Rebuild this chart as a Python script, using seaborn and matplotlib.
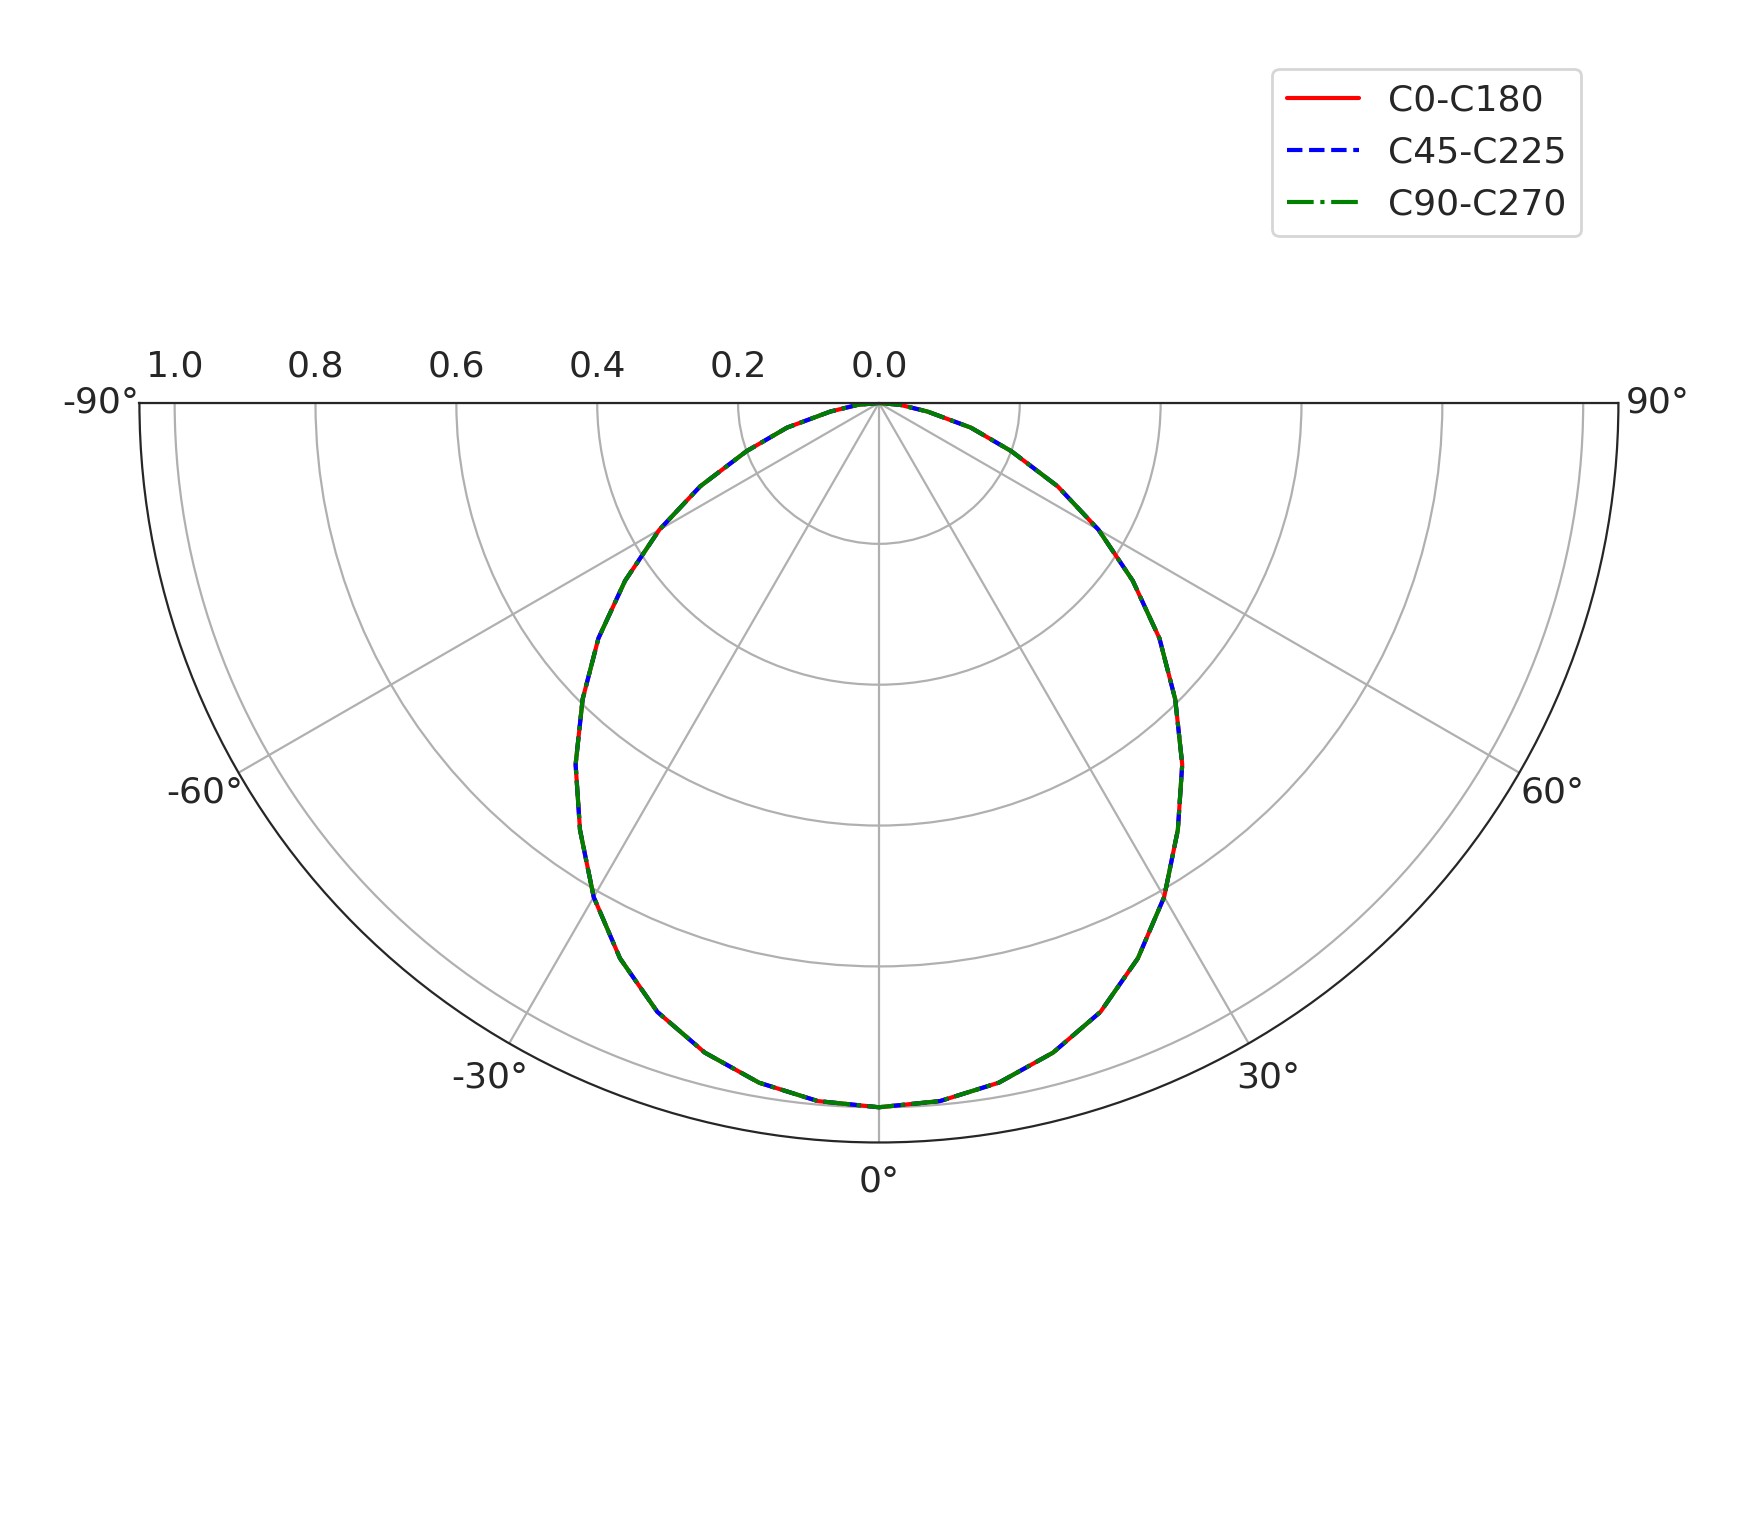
import numpy as np
import pandas as pd
import matplotlib
matplotlib.use("Agg")
import matplotlib.pyplot as plt
import seaborn as sns

angles_deg = [-90, -85, -80, -75, -70, -65, -60, -55, -50, -45, -40, -35, -30, -25, -20, -15, -10, -5, 0,
              5, 10, 15, 20, 25, 30, 35, 40, 45, 50, 55, 60, 65, 70, 75, 80, 85, 90]
c0_c180 = [0.0, 0.03, 0.07, 0.135, 0.20, 0.28, 0.36, 0.44, 0.52, 0.595, 0.67, 0.74, 0.81, 0.87, 0.92, 0.955, 0.98, 0.995, 1.0,
           0.995, 0.98, 0.955, 0.92, 0.87, 0.81, 0.74, 0.67, 0.595, 0.52, 0.44, 0.36, 0.28, 0.20, 0.135, 0.07, 0.03, 0.0]
c45_c225 = list(c0_c180)
c90_c270 = list(c0_c180)
series_names = ["C0-C180", "C45-C225", "C90-C270"]

sns.set_style("white")
plt.rcParams['font.family'] = ['DejaVu Sans']

fig = plt.figure(figsize=(8.685, 7.695), dpi=200)
ax = fig.add_subplot(111, projection='polar')
ax.set_position([-0.347, 0.0174, 1.706, 0.961])
ax.set_theta_zero_location('S')
ax.set_thetamin(-90)
ax.set_thetamax(90)

th = np.deg2rad(angles_deg)
styles = [("red", "-"), ("blue", "--"), ("green", "-.")]
for name, vals, (c, ls) in zip(series_names, [c0_c180, c45_c225, c90_c270], styles):
    df = pd.DataFrame({"theta": th, "r": vals})
    sns.lineplot(data=df, x="theta", y="r", ax=ax, sort=False, color=c, linestyle=ls, linewidth=1.5, label=name)

ax.set_rmax(1.05)
ax.set_rmin(0)
ax.set_rticks([0, 0.2, 0.4, 0.6, 0.8, 1.0])
ax.set_rlabel_position(-90)
ax.set_thetagrids([-90, -60, -30, 0, 30, 60, 90], ["-90°", "-60°", "-30°", "0°", "30°", "60°", "90°"])
ax.set_xlabel("")
ax.set_ylabel("")
ax.grid(True, color="#b0b0b0", linewidth=0.8)
ax.tick_params(labelsize=13)
ax.legend(loc="upper right", bbox_to_anchor=(0.9205, 0.967), bbox_transform=fig.transFigure, fontsize=13)
fig.savefig("out.png", dpi=200)
